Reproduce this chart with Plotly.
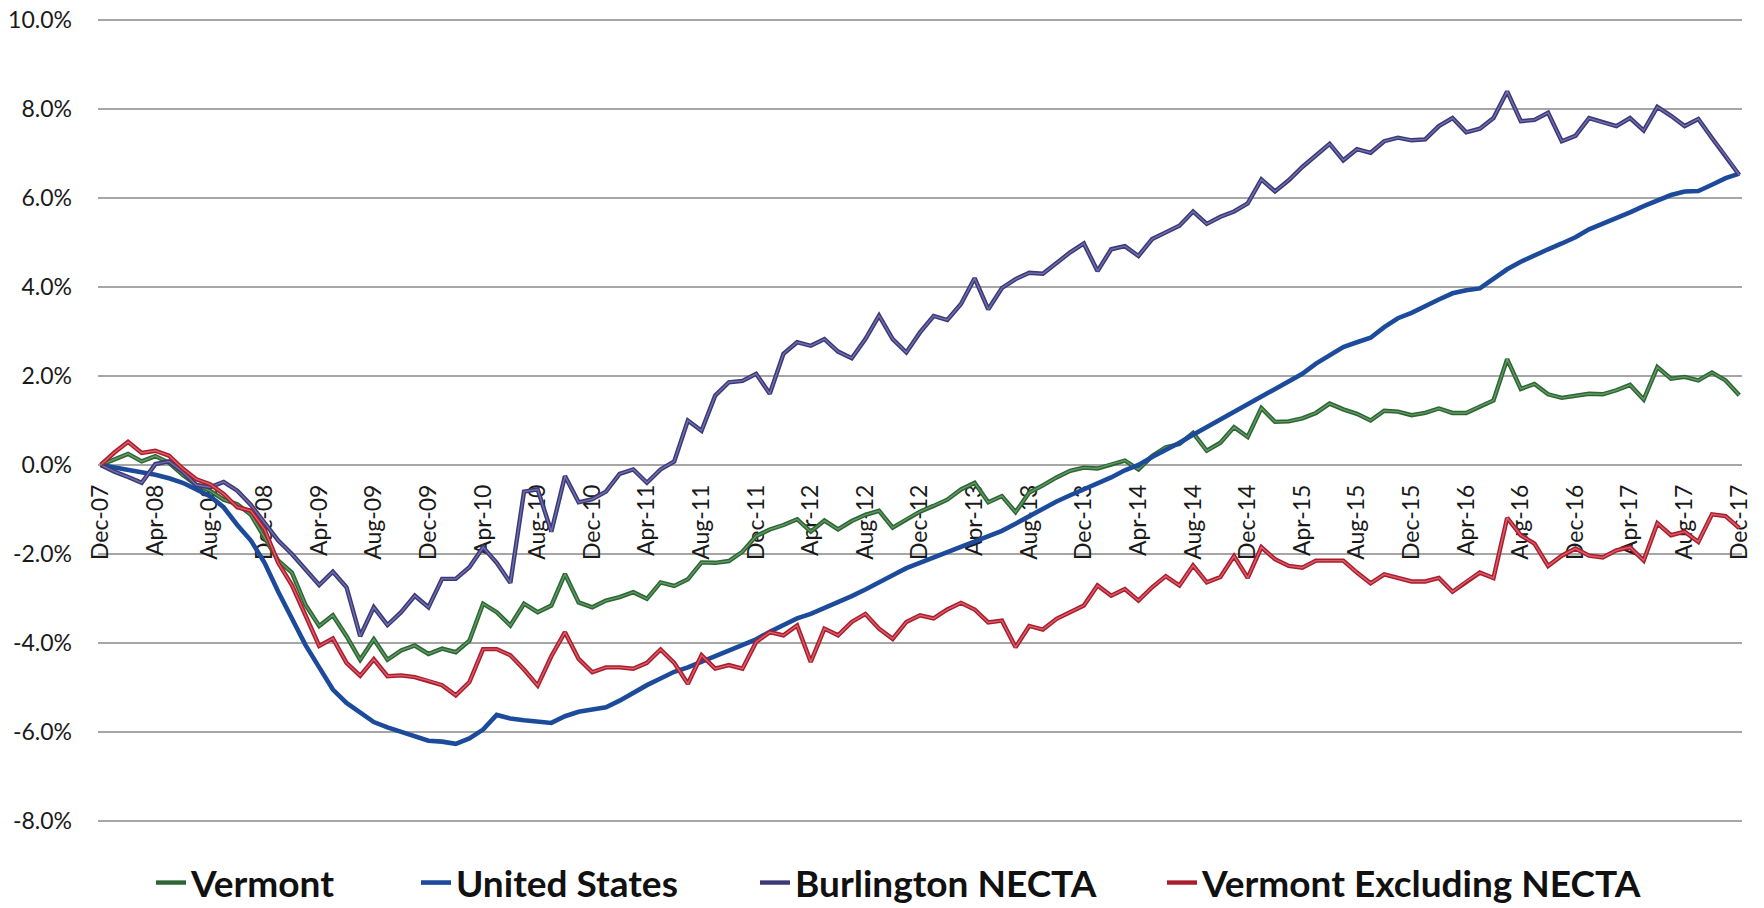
import plotly.graph_objects as go
import pandas as pd

# ---- categories (monthly, Dec-07 .. Dec-17) ----
months = [d.strftime("%b-%y") for d in pd.date_range("2007-12-01", "2017-12-01", freq="MS")]
tick_labels = ["Dec-07", "Apr-08", "Aug-08", "Dec-08", "Apr-09", "Aug-09", "Dec-09", "Apr-10",
               "Aug-10", "Dec-10", "Apr-11", "Aug-11", "Dec-11", "Apr-12", "Aug-12", "Dec-12",
               "Apr-13", "Aug-13", "Dec-13", "Apr-14", "Aug-14", "Dec-14", "Apr-15", "Aug-15",
               "Dec-15", "Apr-16", "Aug-16", "Dec-16", "Apr-17", "Aug-17", "Dec-17"]
y_ticks = [-8, -6, -4, -2, 0, 2, 4, 6, 8, 10]
y_tick_labels = ["-8.0%", "-6.0%", "-4.0%", "-2.0%", "0.0%", "2.0%", "4.0%", "6.0%", "8.0%", "10.0%"]

# ---- series values (% change since Dec-07) ----
vermont = [
    0.00, 0.12, 0.25, 0.08, 0.20, 0.05, -0.22, -0.45, -0.58, -0.78,
    -0.88, -1.12, -1.65, -2.15, -2.42, -3.15, -3.62, -3.38, -3.85, -4.38,
    -3.92, -4.38, -4.17, -4.06, -4.25, -4.13, -4.21, -3.95, -3.12, -3.31,
    -3.61, -3.12, -3.31, -3.16, -2.45, -3.09, -3.20, -3.05, -2.97, -2.86,
    -3.01, -2.64, -2.72, -2.57, -2.19, -2.20, -2.16, -1.95, -1.60, -1.45,
    -1.35, -1.22, -1.50, -1.25, -1.45, -1.26, -1.12, -1.03, -1.41, -1.22,
    -1.05, -0.92, -0.78, -0.55, -0.40, -0.84, -0.70, -1.06, -0.62, -0.46,
    -0.28, -0.13, -0.06, -0.08, 0.02, 0.10, -0.10, 0.20, 0.40, 0.47,
    0.72, 0.32, 0.50, 0.85, 0.63, 1.28, 0.97, 0.98, 1.05, 1.17,
    1.38, 1.25, 1.15, 1.00, 1.22, 1.20, 1.12, 1.17, 1.27, 1.17,
    1.17, 1.32, 1.45, 2.38, 1.71, 1.82, 1.59, 1.51, 1.55, 1.60,
    1.59, 1.68, 1.80, 1.47, 2.20, 1.94, 1.98, 1.90, 2.08, 1.90,
    1.57]

united_states = [
    0.00, -0.05, -0.10, -0.15, -0.22, -0.30, -0.40, -0.55, -0.70, -0.95,
    -1.35, -1.70, -2.20, -2.85, -3.45, -4.05, -4.55, -5.05, -5.35, -5.58,
    -5.78, -5.90, -6.00, -6.10, -6.20, -6.22, -6.27, -6.15, -5.95, -5.62,
    -5.70, -5.74, -5.78, -5.80, -5.65, -5.55, -5.50, -5.45, -5.30, -5.12,
    -4.95, -4.80, -4.65, -4.55, -4.42, -4.30, -4.18, -4.05, -3.92, -3.75,
    -3.60, -3.45, -3.35, -3.22, -3.08, -2.95, -2.80, -2.65, -2.48, -2.32,
    -2.20, -2.08, -1.95, -1.85, -1.72, -1.60, -1.48, -1.32, -1.15, -1.00,
    -0.82, -0.68, -0.55, -0.43, -0.28, -0.12, 0.00, 0.18, 0.33, 0.50,
    0.68, 0.85, 1.02, 1.20, 1.36, 1.52, 1.70, 1.86, 2.05, 2.28,
    2.48, 2.65, 2.76, 2.86, 3.10, 3.30, 3.42, 3.58, 3.72, 3.86,
    3.93, 3.97, 4.20, 4.40, 4.57, 4.72, 4.85, 4.98, 5.12, 5.30,
    5.42, 5.55, 5.68, 5.82, 5.95, 6.07, 6.15, 6.16, 6.30, 6.45,
    6.55]

burlington_necta = [
    0.00, -0.15, -0.27, -0.40, 0.02, 0.08, -0.15, -0.45, -0.50, -0.38,
    -0.58, -0.90, -1.30, -1.70, -2.00, -2.35, -2.70, -2.40, -2.75, -3.85,
    -3.20, -3.60, -3.31, -2.94, -3.20, -2.56, -2.56, -2.30, -1.85, -2.20,
    -2.65, -0.60, -0.55, -1.50, -0.25, -0.84, -0.77, -0.60, -0.20, -0.10,
    -0.40, -0.10, 0.08, 1.00, 0.77, 1.56, 1.86, 1.89, 2.05, 1.60,
    2.50, 2.76, 2.68, 2.83, 2.55, 2.40, 2.83, 3.36, 2.83, 2.53,
    2.98, 3.35, 3.26, 3.62, 4.20, 3.50, 3.98, 4.18, 4.32, 4.30,
    4.55, 4.78, 4.98, 4.36, 4.85, 4.92, 4.70, 5.08, 5.23, 5.38,
    5.70, 5.42, 5.58, 5.70, 5.88, 6.42, 6.15, 6.40, 6.70, 6.95,
    7.22, 6.85, 7.10, 7.02, 7.28, 7.36, 7.30, 7.32, 7.62, 7.80,
    7.48, 7.56, 7.80, 8.40, 7.73, 7.76, 7.92, 7.28, 7.40, 7.80,
    7.70, 7.62, 7.80, 7.52, 8.05, 7.85, 7.62, 7.78, 7.35, 6.95,
    6.52]

vermont_excl_necta = [
    0.00, 0.28, 0.52, 0.27, 0.32, 0.21, -0.08, -0.32, -0.43, -0.65,
    -0.95, -1.03, -1.45, -2.20, -2.70, -3.40, -4.07, -3.90, -4.45, -4.74,
    -4.37, -4.75, -4.73, -4.77, -4.85, -4.95, -5.18, -4.88, -4.14, -4.14,
    -4.28, -4.60, -4.96, -4.30, -3.76, -4.36, -4.66, -4.55, -4.55, -4.58,
    -4.45, -4.15, -4.45, -4.92, -4.28, -4.58, -4.50, -4.58, -3.98, -3.76,
    -3.83, -3.61, -4.43, -3.68, -3.83, -3.53, -3.35, -3.68, -3.91, -3.53,
    -3.38, -3.45, -3.25, -3.10, -3.25, -3.54, -3.50, -4.10, -3.62, -3.70,
    -3.46, -3.31, -3.16, -2.71, -2.94, -2.79, -3.05, -2.75, -2.50, -2.71,
    -2.26, -2.64, -2.52, -2.05, -2.54, -1.85, -2.12, -2.27, -2.31, -2.15,
    -2.15, -2.15, -2.42, -2.66, -2.46, -2.54, -2.62, -2.62, -2.54, -2.85,
    -2.62, -2.42, -2.54, -1.19, -1.58, -1.77, -2.27, -2.04, -1.88, -2.04,
    -2.08, -1.92, -1.85, -2.15, -1.31, -1.58, -1.50, -1.73, -1.11, -1.15,
    -1.42]

# ---- styling ----
FONT = "Lato"
Y_LO, Y_HI = -8.05, 10.05
W, H = 1764, 908
M_L, M_R, M_T, M_B = 98, 22, 18, 85

# name, values, outer colour, inner colour (None = solid), legend id
series = [
    ("Vermont", vermont, "#2E6535", "#5F9B62", "legend"),
    ("United States", united_states, "#1D4B9C", None, "legend2"),
    ("Burlington NECTA", burlington_necta, "#3B3976", "#7170AE", "legend3"),
    ("Vermont Excluding NECTA", vermont_excl_necta, "#A91E2D", "#DC5E6C", "legend4"),
]

fig = go.Figure()
for name, vals, dark, light, leg in series:
    fig.add_trace(go.Scatter(
        x=months, y=vals, mode="lines", name=name, legend=leg,
        line=dict(color=dark, width=4.6 if light is None else 4.4), hoverinfo="skip"))
    if light is not None:
        fig.add_trace(go.Scatter(
            x=months, y=vals, mode="lines", name=name, showlegend=False,
            line=dict(color=light, width=1.4), hoverinfo="skip"))

plot_w = W - M_L - M_R
plot_h = H - M_T - M_B
leg_y = (H - M_B - 883) / plot_h
text_starts = [191, 456, 795, 1202]
leg_common = dict(orientation="h", yanchor="middle", xanchor="left", y=leg_y,
                  bgcolor="rgba(0,0,0,0)", borderwidth=0,
                  font=dict(family=FONT, size=37, color="#111111", weight="bold"))
legends = {}
for key, ts in zip(["legend", "legend2", "legend3", "legend4"], text_starts):
    legends[key] = dict(leg_common, x=(ts - 40 - M_L) / plot_w)

fig.update_layout(
    width=W, height=H,
    margin=dict(l=M_L, r=M_R, t=M_T, b=M_B, autoexpand=False),
    paper_bgcolor="white", plot_bgcolor="white",
    showlegend=True,
    **legends,
)

fig.update_yaxes(
    range=[Y_LO, Y_HI], tickmode="array", tickvals=y_ticks, ticktext=y_tick_labels,
    showgrid=True, gridcolor="#A6A6A6", gridwidth=1.7,
    zeroline=False, showline=False, ticks="",
    ticklabelstandoff=25, automargin=False,
    tickfont=dict(family=FONT, size=23, color="#1A1A1A"),
)
fig.update_xaxes(
    type="category", categoryorder="array", categoryarray=months,
    range=[-0.2, len(months) - 1 + 0.2],
    tickmode="array", tickvals=tick_labels, ticktext=tick_labels,
    tickangle=-90, showgrid=False, zeroline=False, showline=False, ticks="",
    anchor="free", position=(0 - Y_LO) / (Y_HI - Y_LO),
    ticklabelstandoff=14, layer="below traces", automargin=False,
    tickfont=dict(family=FONT, size=23, color="#1A1A1A"),
)

fig.write_html("out.html", config={"displayModeBar": False},
               post_script="document.body.style.margin='0';")
